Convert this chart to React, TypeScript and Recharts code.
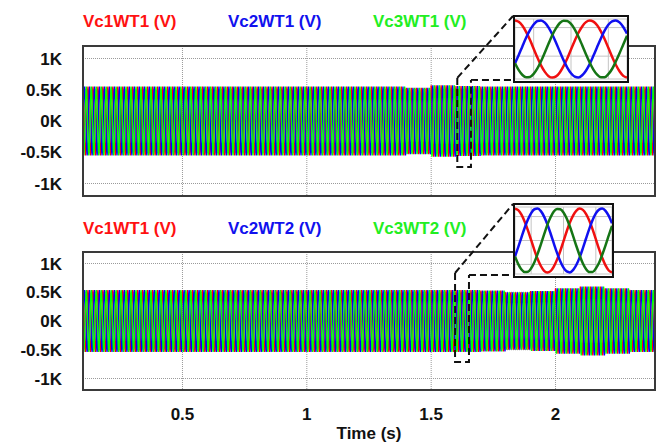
import React from 'react';
import { LineChart, Line, XAxis, YAxis, CartesianGrid } from 'recharts';

// axis ticks
const yTicks = [-1, -0.5, 0, 0.5, 1];
const xTicks = [0.5, 1, 1.5, 2];

// time window of the simulation (s) and sample rate (12 samples per 50 Hz cycle)
const T_START = 0.1;
const T_END = 2.4;
const SAMPLES_PER_S = 600;

// one 20 ms cycle of phase a, per unit
const cycleShape = [1, 0.87, 0.5, 0, -0.5, -0.87, -1, -0.87, -0.5, 0, 0.5, 0.87];

// peak voltage (kV) for each 0.1 s segment starting at 0.1 s
const envelopeWT1 = [
  0.55, 0.55, 0.55, 0.55, 0.55, 0.55, 0.55, 0.55, 0.55, 0.55, 0.55, 0.55, 0.55,
  0.53, 0.57, 0.56, 0.55, 0.55, 0.55, 0.55, 0.55, 0.55, 0.55,
];
const envelopeWT2 = [
  0.54, 0.54, 0.54, 0.54, 0.54, 0.54, 0.54, 0.54, 0.54, 0.54, 0.54, 0.54, 0.54,
  0.54, 0.54, 0.54, 0.53, 0.5, 0.52, 0.57, 0.6, 0.57, 0.54,
];

// zoomed-in waveforms shown in the insets (per unit, 31 samples across the inset)
const insetRed = [
  1.0, 0.95, 0.81, 0.59, 0.32, 0.01, -0.3, -0.58, -0.8, -0.95, -1.0, -0.96, -0.82, -0.6, -0.33,
  -0.02, 0.29, 0.57, 0.79, 0.94, 1.0, 0.96, 0.83, 0.62, 0.35, 0.04, -0.27, -0.55, -0.78, -0.94, -1.0,
];
const insetBlue = [
  -0.5, -0.21, 0.1, 0.4, 0.66, 0.86, 0.98, 1.0, 0.92, 0.75, 0.51, 0.22, -0.09, -0.39, -0.65,
  -0.85, -0.97, -1.0, -0.92, -0.76, -0.53, -0.24, 0.07, 0.37, 0.64, 0.85, 0.97, 1.0, 0.93, 0.77, 0.54,
];
const insetGreen = [
  -0.5, -0.74, -0.91, -0.99, -0.98, -0.87, -0.68, -0.42, -0.12, 0.19, 0.49, 0.73, 0.91, 0.99, 0.98,
  0.88, 0.69, 0.43, 0.13, -0.18, -0.47, -0.72, -0.9, -0.99, -0.99, -0.88, -0.7, -0.44, -0.15, 0.16, 0.46,
];

const legendWT1 = ['Vc1WT1 (V)', 'Vc2WT1 (V)', 'Vc3WT1 (V)'];
const legendWT2 = ['Vc1WT1 (V)', 'Vc2WT2 (V)', 'Vc3WT2 (V)'];

const FONT = '"Liberation Sans", Arial, sans-serif';
const RED = '#ff0000';
const BLUE = '#0000ff';
const GREEN = '#00ff00';
const LEGEND_COLORS = ['#ff1111', '#1111ee', '#22ee22'];

function buildWave(envelope: number[]) {
  const rows = [];
  const n = Math.round((T_END - T_START) * SAMPLES_PER_S);
  const len = cycleShape.length;
  for (let i = 0; i <= n; i++) {
    const t = T_START + i / SAMPLES_PER_S;
    const seg = Math.min(Math.floor((t - T_START) * 10), envelope.length - 1);
    const amp = envelope[seg];
    const k = i % len;
    rows.push({
      t,
      a: amp * cycleShape[k],
      b: amp * cycleShape[(k + 8) % len],
      c: amp * cycleShape[(k + 4) % len],
    });
  }
  return rows;
}

const dataWT1 = buildWave(envelopeWT1);
const dataWT2 = buildWave(envelopeWT2);
const insetData = insetRed.map((v, i) => ({ i, r: v, b: insetBlue[i], g: insetGreen[i] }));

const tickStyle = { fontFamily: FONT, fontWeight: 700, fontSize: 17, fill: '#111' };

const PLOT_L = 83;
const PLOT_R = 655;
const Y_DOMAIN: [number, number] = [-1.2, 1.2];

function Waves() {
  return [
    <Line key="a" type="linear" dataKey="a" stroke={RED} strokeWidth={1.3} dot={false} isAnimationActive={false} />,
    <Line key="b" type="linear" dataKey="b" stroke={BLUE} strokeWidth={1.3} dot={false} isAnimationActive={false} />,
    <Line key="c" type="linear" dataKey="c" stroke={GREEN} strokeWidth={1.3} dot={false} isAnimationActive={false} />,
  ];
}

function Legend({ labels, top }: { labels: string[]; top: number }) {
  return (
    <div style={{ position: 'absolute', left: PLOT_L, top, display: 'flex', fontFamily: FONT, fontWeight: 700, fontSize: 17 }}>
      {labels.map((l, i) => (
        <span key={l + i} style={{ width: 145, color: LEGEND_COLORS[i], whiteSpace: 'nowrap' }}>{l}</span>
      ))}
    </div>
  );
}

function Frame({ top, height }: { top: number; height: number }) {
  return (
    <div
      style={{
        position: 'absolute', left: PLOT_L - 1, top: top - 1, width: PLOT_R - PLOT_L + 2, height: height + 2,
        border: '2px solid #3a3a3a', boxSizing: 'border-box', pointerEvents: 'none',
      }}
    />
  );
}

type Box = { left: number; top: number; width: number; height: number };

function Inset({ box }: { box: Box }) {
  return (
    <div
      style={{
        position: 'absolute', left: box.left, top: box.top, width: box.width, height: box.height,
        border: '2px solid #111', background: '#fff', boxSizing: 'border-box',
      }}
    >
      <LineChart width={box.width - 4} height={box.height - 4} data={insetData} margin={{ top: 2, right: 0, bottom: 2, left: 0 }}>
        <CartesianGrid stroke="#c4c4c4" strokeWidth={1} />
        <XAxis dataKey="i" type="number" domain={[0, 30]} ticks={[5, 10, 15, 20, 25]} hide />
        <YAxis domain={[-1.05, 1.05]} ticks={[-0.75, -0.5, -0.25, 0, 0.25, 0.5, 0.75]} hide />
        <Line type="monotone" dataKey="r" stroke="#f01010" strokeWidth={2.5} dot={false} isAnimationActive={false} />
        <Line type="monotone" dataKey="b" stroke="#1010f0" strokeWidth={2.5} dot={false} isAnimationActive={false} />
        <Line type="monotone" dataKey="g" stroke="#157515" strokeWidth={2.5} dot={false} isAnimationActive={false} />
      </LineChart>
    </div>
  );
}

// plot geometry used to place the zoom call-outs
const TOP_PLOT = { top: 46, height: 150 };
const BOT_PLOT = { top: 252, height: 138 };
const TOP_INSET: Box = { left: 513, top: 15, width: 116, height: 68 };
const BOT_INSET: Box = { left: 513, top: 203, width: 101, height: 75 };
// zoomed window in data units: [t0, t1, vTop, vBottom]
const TOP_ZOOM = [1.605, 1.66, 0.69, -0.735];
const BOT_ZOOM = [1.596, 1.652, 0.835, -0.713];

const px = (t: number) => PLOT_L + ((t - T_START) / (T_END - T_START)) * (PLOT_R - PLOT_L);
const py = (plot: { top: number; height: number }, v: number) =>
  plot.top + ((Y_DOMAIN[1] - v) / (Y_DOMAIN[1] - Y_DOMAIN[0])) * plot.height;

function Callout({ plot, zoom, box }: { plot: { top: number; height: number }; zoom: number[]; box: Box }) {
  const x0 = px(zoom[0]);
  const x1 = px(zoom[1]);
  const y0 = py(plot, zoom[2]);
  const y1 = py(plot, zoom[3]);
  const dash = { stroke: '#111', strokeWidth: 2, strokeDasharray: '7 4', fill: 'none' };
  return (
    <g>
      <path d={`M${x0},${y0} L${x0},${y1} L${x1},${y1} L${x1},${y0 + 2}`} {...dash} />
      <line x1={x0} y1={y0} x2={box.left} y2={box.top + 1} {...dash} />
      <line x1={x1} y1={y0 + 2} x2={box.left} y2={box.top + box.height - 3} {...dash} />
    </g>
  );
}

export default function App() {
  return (
    <div style={{ position: 'absolute', left: 0, top: 0, width: 667, height: 443, background: '#fff', overflow: 'hidden' }}>
      <Legend labels={legendWT1} top={12} />
      <div style={{ position: 'absolute', left: 0, top: 0 }}>
        <LineChart width={667} height={200} data={dataWT1} margin={{ top: 46, right: 12, bottom: 4, left: 13 }}>
          <CartesianGrid stroke="#9a9a9a" strokeDasharray="1 1" />
          <XAxis dataKey="t" type="number" domain={[T_START, T_END]} ticks={xTicks} hide allowDataOverflow />
          <YAxis
            domain={Y_DOMAIN}
            ticks={yTicks}
            width={70}
            axisLine={false}
            tickLine={false}
            tickMargin={15}
            tick={tickStyle}
            tickFormatter={(v: number) => `${v}K`}
          />
          {Waves()}
        </LineChart>
      </div>
      <Frame top={TOP_PLOT.top} height={TOP_PLOT.height} />

      <Legend labels={legendWT2} top={219} />
      <div style={{ position: 'absolute', left: 0, top: 200 }}>
        <LineChart width={667} height={243} data={dataWT2} margin={{ top: 52, right: 12, bottom: 0, left: 13 }}>
          <CartesianGrid stroke="#9a9a9a" strokeDasharray="1 1" />
          <XAxis
            dataKey="t"
            type="number"
            domain={[T_START, T_END]}
            ticks={xTicks}
            height={53}
            axisLine={false}
            tickLine={false}
            tickMargin={12}
            tick={tickStyle}
            allowDataOverflow
            label={{ value: 'Time (s)', position: 'insideBottom', offset: 4, style: { ...tickStyle } }}
          />
          <YAxis
            domain={Y_DOMAIN}
            ticks={yTicks}
            width={70}
            axisLine={false}
            tickLine={false}
            tickMargin={15}
            tick={tickStyle}
            tickFormatter={(v: number) => `${v}K`}
          />
          {Waves()}
        </LineChart>
      </div>
      <Frame top={BOT_PLOT.top} height={BOT_PLOT.height} />

      <svg width={667} height={443} style={{ position: 'absolute', left: 0, top: 0, pointerEvents: 'none' }}>
        <Callout plot={TOP_PLOT} zoom={TOP_ZOOM} box={TOP_INSET} />
        <Callout plot={BOT_PLOT} zoom={BOT_ZOOM} box={BOT_INSET} />
      </svg>
      <Inset box={TOP_INSET} />
      <Inset box={BOT_INSET} />
    </div>
  );
}
